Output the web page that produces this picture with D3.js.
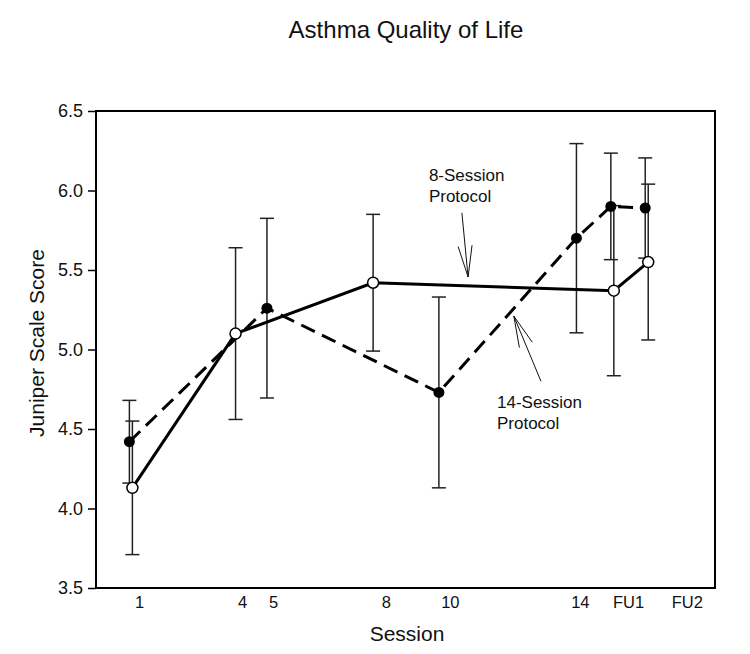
<!DOCTYPE html>
<html>
<head>
<meta charset="utf-8">
<script src="https://cdn.jsdelivr.net/npm/d3@7"></script>
<style>
  body { margin: 0; background: #fff; }
  text { font-family: "Liberation Sans", Arial, sans-serif; fill: #111; }
</style>
</head>
<body>
<div id="chart"></div>
<script>
// session positions (FU1 = 15, FU2 = 16 on the session scale)
var sessions8 = [1, 4, 8, 15, 16];
var mean8 = [4.13, 5.10, 5.42, 5.37, 5.55];
var err8 = [0.42, 0.54, 0.43, 0.535, 0.49];

var sessions14 = [1, 5, 10, 14, 15, 16];
var mean14 = [4.42, 5.26, 4.73, 5.70, 5.90, 5.89];
var err14 = [0.26, 0.565, 0.60, 0.595, 0.335, 0.315];

var tickLabels = ["1", "4", "5", "8", "10", "14", "FU1", "FU2"];
var tickAt = [1.25, 4.25, 5.15, 8.43, 10.29, 14.07, 15.47, 17.18];
var yTicks = [3.5, 4.0, 4.5, 5.0, 5.5, 6.0, 6.5];

var width = 750, height = 654;
var margin = {top: 111, right: 35, bottom: 66, left: 96};

var svg = d3.select("#chart").append("svg")
  .attr("width", width)
  .attr("height", height);

var x = d3.scaleLinear().domain([0, 18]).range([margin.left, width - margin.right]);
var y = d3.scaleLinear().domain([3.5, 6.5]).range([height - margin.bottom, margin.top]);

// title
svg.append("text")
  .attr("x", 406)
  .attr("y", 38)
  .attr("text-anchor", "middle")
  .style("font-size", "24px")
  .text("Asthma Quality of Life");

// frame
svg.append("rect")
  .attr("x", x(0))
  .attr("y", y(6.5))
  .attr("width", x(18) - x(0))
  .attr("height", y(3.5) - y(6.5))
  .attr("fill", "none")
  .attr("stroke", "#000")
  .attr("stroke-width", 2);

// y axis
var yAxis = svg.append("g")
  .attr("transform", "translate(" + x(0) + ",0)")
  .call(d3.axisLeft(y).tickValues(yTicks).tickFormat(d3.format(".1f")).tickSize(8).tickPadding(5));
yAxis.select(".domain").remove();
yAxis.selectAll("line").attr("stroke", "#000").attr("stroke-width", 1.5);
yAxis.selectAll("text").style("font-size", "18px").style("font-family", "'Liberation Sans', Arial, sans-serif").attr("fill", "#111");

// x axis (labels only)
var xAxis = svg.append("g")
  .attr("transform", "translate(0," + y(3.5) + ")")
  .call(d3.axisBottom(x).tickValues(tickAt).tickFormat(function(d, i){ return tickLabels[i]; }).tickSize(0).tickPadding(8));
xAxis.select(".domain").remove();
xAxis.selectAll("text").style("font-size", "16.5px").style("font-family", "'Liberation Sans', Arial, sans-serif").attr("fill", "#111");

// axis titles
svg.append("text")
  .attr("x", 407)
  .attr("y", 641)
  .attr("text-anchor", "middle")
  .style("font-size", "21px")
  .text("Session");

svg.append("text")
  .attr("transform", "translate(44,343) rotate(-90)")
  .attr("text-anchor", "middle")
  .style("font-size", "21px")
  .text("Juniper Scale Score");

var data8 = sessions8.map(function(s, i){ return {s: s, m: mean8[i], e: err8[i]}; });
var data14 = sessions14.map(function(s, i){ return {s: s, m: mean14[i], e: err14[i]}; });
var dx8 = 2, dx14 = -1;

function errorBars(data, dx){
  var g = svg.append("g").attr("stroke", "#222").attr("stroke-width", 1.5);
  data.forEach(function(d){
    var cx = x(d.s) + dx;
    g.append("line").attr("x1", cx).attr("x2", cx).attr("y1", y(d.m - d.e)).attr("y2", y(d.m + d.e));
    g.append("line").attr("x1", cx - 7).attr("x2", cx + 7).attr("y1", y(d.m + d.e)).attr("y2", y(d.m + d.e));
    g.append("line").attr("x1", cx - 7).attr("x2", cx + 7).attr("y1", y(d.m - d.e)).attr("y2", y(d.m - d.e));
  });
}
errorBars(data14, dx14);
errorBars(data8, dx8);

function lineFor(dx){
  return d3.line().x(function(d){ return x(d.s) + dx; }).y(function(d){ return y(d.m); });
}

svg.append("path")
  .attr("d", lineFor(dx14)(data14))
  .attr("fill", "none")
  .attr("stroke", "#000")
  .attr("stroke-width", 3)
  .attr("stroke-dasharray", "15,8");

svg.append("path")
  .attr("d", lineFor(dx8)(data8))
  .attr("fill", "none")
  .attr("stroke", "#000")
  .attr("stroke-width", 3);

svg.selectAll("circle.filled")
  .data(data14).enter().append("circle")
  .attr("class", "filled")
  .attr("cx", function(d){ return x(d.s) + dx14; })
  .attr("cy", function(d){ return y(d.m); })
  .attr("r", 5.5)
  .attr("fill", "#000");

svg.selectAll("circle.open")
  .data(data8).enter().append("circle")
  .attr("class", "open")
  .attr("cx", function(d){ return x(d.s) + dx8; })
  .attr("cy", function(d){ return y(d.m); })
  .attr("r", 5.5)
  .attr("fill", "#fff")
  .attr("stroke", "#000")
  .attr("stroke-width", 1.5);

// annotations (data units)
var notes = [
  {lines: ["8-Session", "Protocol"], tx: 9.68, ty: 6.06, tail: [10.64, 5.86], tip: [10.82, 5.456]},
  {lines: ["14-Session", "Protocol"], tx: 11.66, ty: 4.63, tail: [12.94, 4.80], tip: [12.15, 5.21]}
];

notes.forEach(function(n){
  var t = svg.append("text")
    .attr("x", x(n.tx))
    .attr("y", y(n.ty))
    .style("font-size", "17px");
  n.lines.forEach(function(l, i){
    t.append("tspan").attr("x", x(n.tx)).attr("dy", i ? 21 : 0).text(l);
  });

  var x0 = x(n.tail[0]), y0 = y(n.tail[1]), x1 = x(n.tip[0]), y1 = y(n.tip[1]);
  var ang = Math.atan2(y0 - y1, x0 - x1);
  var g = svg.append("g").attr("stroke", "#111").attr("stroke-width", 1);
  g.append("line").attr("x1", x0).attr("y1", y0).attr("x2", x1).attr("y2", y1);
  [-0.22, 0.22].forEach(function(a){
    g.append("line")
      .attr("x1", x1).attr("y1", y1)
      .attr("x2", x1 + 32 * Math.cos(ang + a))
      .attr("y2", y1 + 32 * Math.sin(ang + a));
  });
});
</script>
</body>
</html>
